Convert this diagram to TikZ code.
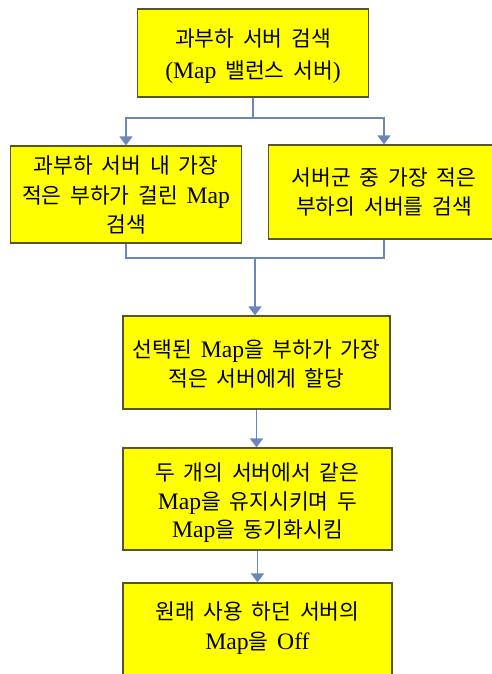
\documentclass[tikz,border=0pt]{standalone}
\usepackage{fontspec}
\setmainfont[WordSpace=1.8]{Noto Sans CJK KR}
\newfontfamily\latf[Scale=1.1]{Liberation Serif}
\newcommand{\lat}[1]{{\latf #1}}
\usetikzlibrary{arrows.meta}
\definecolor{boxfill}{RGB}{255,255,0}
\definecolor{boxline}{RGB}{85,85,40}
\definecolor{conn}{RGB}{105,135,190}
\tikzset{
  flowbox/.style={draw=boxline, line width=1.2pt, fill=boxfill, inner sep=0pt},
  boxtext/.style={align=center, inner sep=0pt, font=\fontsize{21.5}{29.5}\selectfont},
  link/.style={draw=conn, line width=1.8pt},
  arr/.style={link, -{Triangle[width=13pt,length=9pt]}}
}
\begin{document}
\begin{tikzpicture}[x=1pt,y=-1pt]
\useasboundingbox (0,0) rectangle (492,674);
\node[flowbox, minimum width=231pt, minimum height=88pt] (b1) at (253,53) {};
\node[boxtext, font=\fontsize{21.5}{32}\selectfont] (t1) at (253,56)
  {과부하 서버 검색\\\lat{(Map} 밸런스 서버\lat{)}};
\node[flowbox, minimum width=231pt, minimum height=97pt] (b2) at (126,194.5) {};
\node[boxtext] (t2) at (126,195)
  {과부하 서버 내 가장\\적은 부하가 걸린 \lat{Map}\\검색};
\node[flowbox, minimum width=231pt, minimum height=94pt] (b3) at (384,192) {};
\node[boxtext] (t3) at (384,192)
  {서버군 중 가장 적은\\부하의 서버를 검색};
\node[flowbox, minimum width=267pt, minimum height=93pt] (b4) at (256.5,362.5) {};
\node[boxtext, font=\fontsize{21.5}{28.5}\selectfont] (t4) at (256.5,364)
  {선택된 \lat{Map}을 부하가 가장\\적은 서버에게 할당};
\node[flowbox, minimum width=269pt, minimum height=102pt] (b5) at (257.5,499) {};
\node[boxtext, font=\fontsize{21.5}{28.5}\selectfont] (t5) at (257.5,503)
  {두 개의 서버에서 같은\\\lat{Map}을 유지시키며 두\\\lat{Map}을 동기화시킴};
\node[flowbox, minimum width=269pt, minimum height=100pt] (b6) at (257.5,633) {};
\node[boxtext, font=\fontsize{21.5}{30}\selectfont] (t6) at (257.5,628)
  {원래 사용 하던 서버의\\\lat{Map}을 \lat{Off}};
\coordinate (j1) at (253,118);
\coordinate (j2) at (255,258);
\draw[link] (b1.south) -- (j1);
\draw[arr] (j1) -| (b2.north);
\draw[arr] (j1) -| (b3.north);
\draw[link] (b2.south) |- (j2);
\draw[link] (b3.south) |- (j2);
\draw[arr] (j2) -- (j2 |- b4.north);
\draw[arr] (b4.south -| b4) -- (b4.south |- b5.north);
\draw[arr] (b5.south) -- (b5.south |- b6.north);
\end{tikzpicture}
\end{document}
